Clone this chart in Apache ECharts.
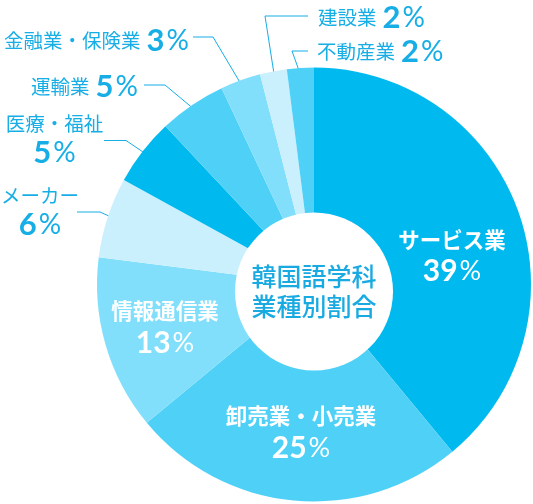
<!DOCTYPE html>
<html><head><meta charset="utf-8">
<script src="https://cdn.jsdelivr.net/npm/echarts@6/dist/echarts.min.js"></script>
<style>html,body{margin:0;padding:0;background:#fff}#c{width:533px;height:504px}</style>
</head><body><div id="c"></div>
<script>
const categories = ['サービス業','卸売業・小売業','情報通信業','メーカー','医療・福祉','運輸業','金融業・保険業','建設業','不動産業'];
const shares = [39,25,13,6,5,5,3,2,2];
const centerTitle = ['韓国語学科','業種別割合'];

const sliceColors = ['#00b9ef','#4fd1f7','#82dffc','#cbf0fd','#00b9ef','#4fd1f7','#82dffc','#cbf0fd','#4fd1f7'];
const BLUE = '#17aee6';
const CX = 314, CY = 284.5, R = 217;
const HOLE = {x:314, y:291.5, r:79};

// label placement config (pixels)
const labelPlace = [
  {inside:true, x:452, y:256.5, align:'center'},
  {inside:true, x:301, y:433, align:'center'},
  {inside:true, x:165, y:328, align:'center'},
  {two:true, x:40, y:211, align:'center', knee:[100,212], end:[77,212], r:200},
  {two:true, x:54.5, y:139, align:'center', knee:[126,140.5], end:[104,140.5], r:215},
  {x:138, y:86.5, align:'right', knee:[165,85], end:[144,85], r:210},
  {x:189, y:41, align:'right', knee:[213,37], end:[193,37], r:209},
  {x:318, y:17.5, align:'left', knee:[265,16], end:[308,16], r:209},
  {x:317, y:51.5, align:'left', knee:[292,51], end:[308,51], r:209}
];

const total = shares.reduce((a,b)=>a+b,0);
const midAngle = [];
let acc = 0;
shares.forEach(v => { midAngle.push((acc + v/2)/total*2*Math.PI); acc += v; });

const CJK = '"Noto Sans CJK JP", sans-serif';
const NUM = 'Lato, "Noto Sans CJK JP", sans-serif';

const data = categories.map((name,i) => {
  const L = labelPlace[i];
  let formatter, rich;
  if (L.inside) {
    formatter = '{n|' + name + '}\n{d|' + shares[i] + '}{pc|%}';
    rich = {
      n:{fontFamily:CJK, fontSize:21.5, fontWeight:'bold', color:'#fff', lineHeight:30},
      d:{fontFamily:NUM, fontSize:30, fontWeight:'bold', color:'#fff', lineHeight:34},
      pc:{fontFamily:NUM, fontSize:27, fontWeight:'normal', color:'#fff', lineHeight:34, padding:[0,0,0,2]}
    };
  } else if (L.two) {
    formatter = '{n|' + name + '}\n{d|' + shares[i] + '}{pc|%}';
    rich = {
      n:{fontFamily:CJK, fontSize:19.5, color:BLUE, lineHeight:27},
      d:{fontFamily:NUM, fontSize:31, fontWeight:'bold', color:BLUE, lineHeight:31},
      pc:{fontFamily:NUM, fontSize:28, fontWeight:'normal', color:BLUE, lineHeight:31, padding:[0,0,0,2]}
    };
  } else {
    formatter = '{n|' + name + '}{d|' + shares[i] + '}{pc|%}';
    rich = {
      n:{fontFamily:CJK, fontSize:19.5, color:BLUE, padding:[0,6,0,0]},
      d:{fontFamily:NUM, fontSize:31, fontWeight:'bold', color:BLUE},
      pc:{fontFamily:NUM, fontSize:28, fontWeight:'normal', color:BLUE, padding:[0,0,0,2]}
    };
  }
  return {
    name, value: shares[i],
    itemStyle:{color: sliceColors[i]},
    label:{show:true, position: L.inside ? 'inside' : 'outside', formatter, rich},
    labelLine:{show: !L.inside, lineStyle:{color:BLUE, width:1}}
  };
});

const chart = echarts.init(document.getElementById('c'), null, {renderer:'canvas'});
chart.setOption({
  animation:false,
  backgroundColor:'#fff',
  series:[{
    type:'pie',
    center:[CX, CY],
    radius:[0, R],
    startAngle:90,
    clockwise:true,
    avoidLabelOverlap:false,
    silent:true,
    itemStyle:{borderWidth:0},
    labelLine:{smooth:false, length:10, length2:10},
    data,
    labelLayout: function(p){
      const L = labelPlace[p.dataIndex];
      const out = {x:L.x, y:L.y, align:L.align, verticalAlign:'middle'};
      if (!L.inside) {
        const a = midAngle[p.dataIndex];
        const sx = CX + L.r*Math.sin(a), sy = CY - L.r*Math.cos(a);
        out.labelLinePoints = [[sx,sy], L.knee, L.end];
      }
      return out;
    }
  }],
  graphic:[
    {type:'circle', z:100, shape:{cx:HOLE.x, cy:HOLE.y, r:HOLE.r}, style:{fill:'#fff'}},
    {type:'text', z:101, x:HOLE.x, y:HOLE.y, style:{
      text: centerTitle.join('\n'), fill:'#19aae2', font:'500 25px "Noto Sans CJK JP", sans-serif',
      lineHeight:30, align:'center', verticalAlign:'middle'}}
  ]
});
</script></body></html>
